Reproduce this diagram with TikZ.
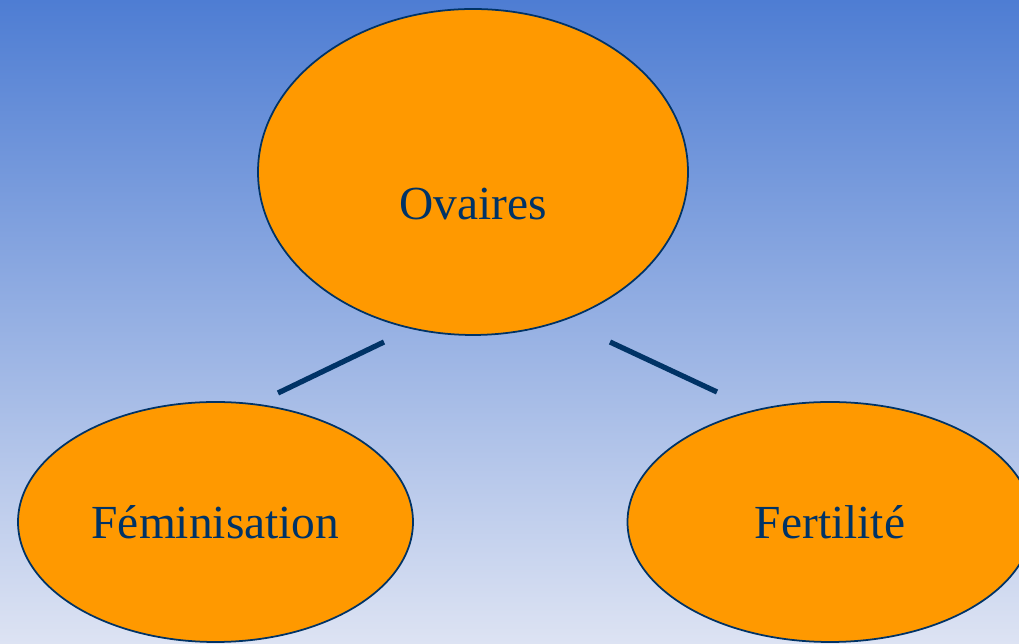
\documentclass[tikz,border=0pt]{standalone}
\usepackage{fontspec}
\setmainfont{Liberation Serif}
\usepackage{xcolor}
\usepackage{tikz}
\usetikzlibrary{shapes.geometric}
\definecolor{skyTop}{RGB}{78,125,211}
\definecolor{skyBottom}{RGB}{221,227,243}
\definecolor{bubbleOrange}{RGB}{255,153,0}
\definecolor{inkNavy}{RGB}{0,51,102}

\begin{document}
\begin{tikzpicture}[
		bubble/.style={ellipse, draw=inkNavy, line width=1pt, fill=bubbleOrange, inner sep=0pt},
		link/.style={draw=inkNavy, line width=3pt}]
		\tikzset{every node/.append style={text=inkNavy, font=\fontsize{27}{32}\selectfont}}
		\useasboundingbox (0,0) rectangle (20.38,12.88);
		\shade[top color=skyTop, bottom color=skyBottom] (0,0) rectangle (20.38,12.88);
		\node [bubble, minimum width=8.6cm, minimum height=6.52cm] (ovaires) at (9.46,9.44) {};
		\node at ([yshift=-0.64cm]ovaires.center) {Ovaires};
		\node [bubble, minimum width=7.9cm, minimum height=4.8cm] (feminisation) at (4.31,2.44) {Féminisation};
		\node [bubble, minimum width=8.1cm, minimum height=4.8cm] (fertilite) at (16.6,2.44) {Fertilité};
		\coordinate (ovL) at (7.68,6.04);
		\coordinate (feTop) at (5.56,5.02);
		\coordinate (ovR) at (12.2,6.04);
		\coordinate (frTop) at (14.34,5.04);
		\draw [link] (ovL) -- (feTop);
		\draw [link] (ovR) -- (frTop);
	\end{tikzpicture}
\end{document}
